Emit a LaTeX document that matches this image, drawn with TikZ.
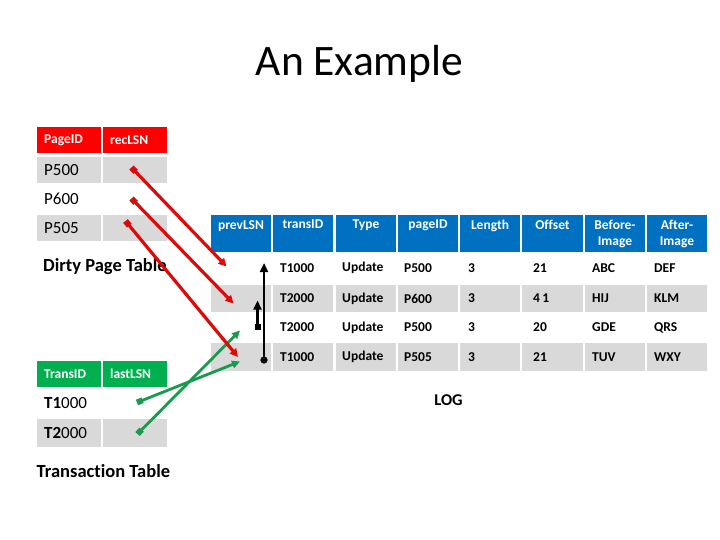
\documentclass[tikz,border=0pt]{standalone}
\usepackage{fontspec}
\setmainfont{Carlito}[Ligatures=NoCommon]
\usetikzlibrary{arrows.meta}
\definecolor{hred}{HTML}{FF0000}
\definecolor{hblue}{HTML}{0070C0}
\definecolor{hgreen}{HTML}{00B050}
\definecolor{cgray}{HTML}{D9D9D9}
\definecolor{ared}{HTML}{DD0A0A}
\definecolor{agreen}{HTML}{1A9A4E}
\tikzset{
  cellbox/.style={anchor=north west, inner sep=0pt, outer sep=0pt, draw=none},
  hdrtxt/.style={font=\fontsize{13.5}{15}\selectfont\bfseries, text=white, inner sep=0pt},
  dpttxt/.style={font=\fontsize{17}{19}\selectfont, inner sep=0pt},
  logtxt/.style={font=\fontsize{13.5}{15}\selectfont\bfseries, inner sep=0pt},
  captxt/.style={font=\fontsize{18.5}{20}\selectfont\bfseries, inner sep=0pt},
  redarrow/.style={draw=ared, line width=3.2pt, {Square[length=6pt,width=6pt]}-{Triangle[length=8pt,width=8pt]}},
  greenarrow/.style={draw=agreen, line width=2.8pt, {Square[length=6pt,width=6pt]}-{Triangle[length=8pt,width=7.5pt]}},
  blackarrow/.style={draw=black, line width=2.6pt, {Circle[length=7pt]}-{Triangle[length=9pt,width=8pt]}},
  blackarrowsq/.style={draw=black, line width=2.6pt, {Square[length=6pt,width=6pt]}-{Triangle[length=9pt,width=8pt]}},
}
% left-aligned cell: name, x, y, w, h, fill, text, textstyle, pad
\newcommand\lcell[9]{%
  \node[cellbox, fill=#6, minimum width=#4pt, minimum height=#5pt] (#1) at (#2,#3) {};
  \node[#8, anchor=west] (#1t) at ([xshift=#9pt]#1.west) {#7};}
% header cell with top-centred text
\newcommand\hcell[6]{%
  \node[cellbox, fill=hblue, minimum width=#4pt, minimum height=#5pt] (#1) at (#2,#3) {};
  \node[hdrtxt, anchor=north, align=center, font=\fontsize{13.5}{16}\selectfont\bfseries] (#1t) at ([yshift=-5pt]#1.north) {#6};}
\begin{document}
\begin{tikzpicture}[x=1pt,y=-1pt]
\useasboundingbox (0,0) rectangle (720,540);
\fill[white] (0,0) rectangle (720,540);

\node[font=\fontsize{43.5}{47}\selectfont, inner sep=0pt] (title) at (359.5,64) {An Example};

% Dirty page table
\lcell{dh1}{37}{127}{64}{26}{hred}{PageID}{hdrtxt}{7}
\lcell{dh2}{103}{127}{64}{26}{hred}{recLSN}{hdrtxt}{7}
\lcell{d11}{37}{157}{64}{26}{cgray}{P500}{dpttxt}{7}
\lcell{d12}{103}{157}{64}{26}{cgray}{}{dpttxt}{7}
\lcell{d21}{37}{186}{64}{26}{white}{P600}{dpttxt}{7}
\lcell{d22}{103}{186}{64}{26}{white}{}{dpttxt}{7}
\lcell{d31}{37}{215}{64}{26}{cgray}{P505}{dpttxt}{7}
\lcell{d32}{103}{215}{64}{26}{cgray}{}{dpttxt}{7}
\node[captxt, anchor=west] (dptcap) at (43,266.5) {Dirty Page Table};

% Transaction table
\lcell{th1}{37}{361}{64}{26}{hgreen}{TransID}{hdrtxt}{7}
\lcell{th2}{103}{361}{64}{26}{hgreen}{lastLSN}{hdrtxt}{7}
\lcell{t11}{37}{390}{64}{26}{white}{\textbf{T1}000}{dpttxt}{7}
\lcell{t12}{103}{390}{64}{26}{white}{}{dpttxt}{7}
\lcell{t21}{37}{419}{64}{28}{cgray}{\textbf{T2}000}{dpttxt}{7}
\lcell{t22}{103}{419}{64}{28}{cgray}{}{dpttxt}{7}
\node[captxt, anchor=west] (ttcap) at (36.5,471) {Transaction Table};

% Log header
\hcell{lh1}{211}{215}{60}{37}{prevLSN}
\hcell{lh2}{273}{215}{60}{37}{transID}
\hcell{lh3}{336}{215}{60}{37}{Type}
\hcell{lh4}{398}{215}{60}{37}{pageID}
\hcell{lh5}{460}{215}{60}{37}{Length}
\hcell{lh6}{522}{215}{61}{37}{Offset}
\hcell{lh7}{585}{215}{60}{37}{Before-\\Image}
\hcell{lh8}{647}{215}{60}{37}{After-\\Image}

% Log rows
\lcell{l10}{211}{254}{60}{28}{white}{}{logtxt}{6}
\lcell{l11}{273}{254}{60}{28}{white}{T1000}{logtxt}{7}
\lcell{l12}{336}{254}{60}{28}{white}{Update}{logtxt}{6}
\lcell{l13}{398}{254}{60}{28}{white}{P500}{logtxt}{6}
\lcell{l14}{460}{254}{60}{28}{white}{3}{logtxt}{8}
\lcell{l15}{522}{254}{61}{28}{white}{21}{logtxt}{11}
\lcell{l16}{585}{254}{60}{28}{white}{ABC}{logtxt}{7}
\lcell{l17}{647}{254}{60}{28}{white}{DEF}{logtxt}{7}

\lcell{l20}{211}{285}{60}{27}{cgray}{}{logtxt}{6}
\lcell{l21}{273}{285}{60}{27}{cgray}{T2000}{logtxt}{7}
\lcell{l22}{336}{285}{60}{27}{cgray}{Update}{logtxt}{6}
\lcell{l23}{398}{285}{60}{27}{cgray}{P600}{logtxt}{6}
\lcell{l24}{460}{285}{60}{27}{cgray}{3}{logtxt}{8}
\lcell{l25}{522}{285}{61}{27}{cgray}{4\,1}{logtxt}{11}
\lcell{l26}{585}{285}{60}{27}{cgray}{HIJ}{logtxt}{7}
\lcell{l27}{647}{285}{60}{27}{cgray}{KLM}{logtxt}{7}

\lcell{l30}{211}{314}{60}{27}{white}{}{logtxt}{6}
\lcell{l31}{273}{314}{60}{27}{white}{T2000}{logtxt}{7}
\lcell{l32}{336}{314}{60}{27}{white}{Update}{logtxt}{6}
\lcell{l33}{398}{314}{60}{27}{white}{P500}{logtxt}{6}
\lcell{l34}{460}{314}{60}{27}{white}{3}{logtxt}{8}
\lcell{l35}{522}{314}{61}{27}{white}{20}{logtxt}{11}
\lcell{l36}{585}{314}{60}{27}{white}{GDE}{logtxt}{7}
\lcell{l37}{647}{314}{60}{27}{white}{QRS}{logtxt}{7}

\lcell{l40}{211}{343}{60}{28}{cgray}{}{logtxt}{6}
\lcell{l41}{273}{343}{60}{28}{cgray}{T1000}{logtxt}{7}
\lcell{l42}{336}{343}{60}{28}{cgray}{Update}{logtxt}{6}
\lcell{l43}{398}{343}{60}{28}{cgray}{P505}{logtxt}{6}
\lcell{l44}{460}{343}{60}{28}{cgray}{3}{logtxt}{8}
\lcell{l45}{522}{343}{61}{28}{cgray}{21}{logtxt}{11}
\lcell{l46}{585}{343}{60}{28}{cgray}{TUV}{logtxt}{7}
\lcell{l47}{647}{343}{60}{28}{cgray}{WXY}{logtxt}{7}

\node[font=\fontsize{16.5}{18}\selectfont\bfseries, inner sep=0pt] (logcap) at (448.5,400) {LOG};

% connector end points
\coordinate (rs1) at (131.5,167.5);
\coordinate (rs2) at (131.5,198.5);
\coordinate (rs3) at (125.5,221);
\coordinate (re1) at (226.5,266.5);
\coordinate (re2) at (233.5,303.5);
\coordinate (re3) at (238,357);
\coordinate (gs1) at (137,402.5);
\coordinate (gs2) at (137.5,434);
\coordinate (ge1) at (240,361.5);
\coordinate (ge2) at (240,330.5);
\coordinate (bs1) at (264,363.5);
\coordinate (be1) at (264,263);
\coordinate (bs2) at (257.5,330);
\coordinate (be2) at (257.5,300.5);

\draw[greenarrow] (gs1) -- (ge1);
\draw[greenarrow] (gs2) -- (ge2);
\draw[redarrow] (rs1) -- (re1);
\draw[redarrow] (rs2) -- (re2);
\draw[redarrow] (rs3) -- (re3);
\draw[blackarrow] (bs1) -- (be1);
\draw[blackarrowsq] (bs2) -- (be2);
\end{tikzpicture}
\end{document}
